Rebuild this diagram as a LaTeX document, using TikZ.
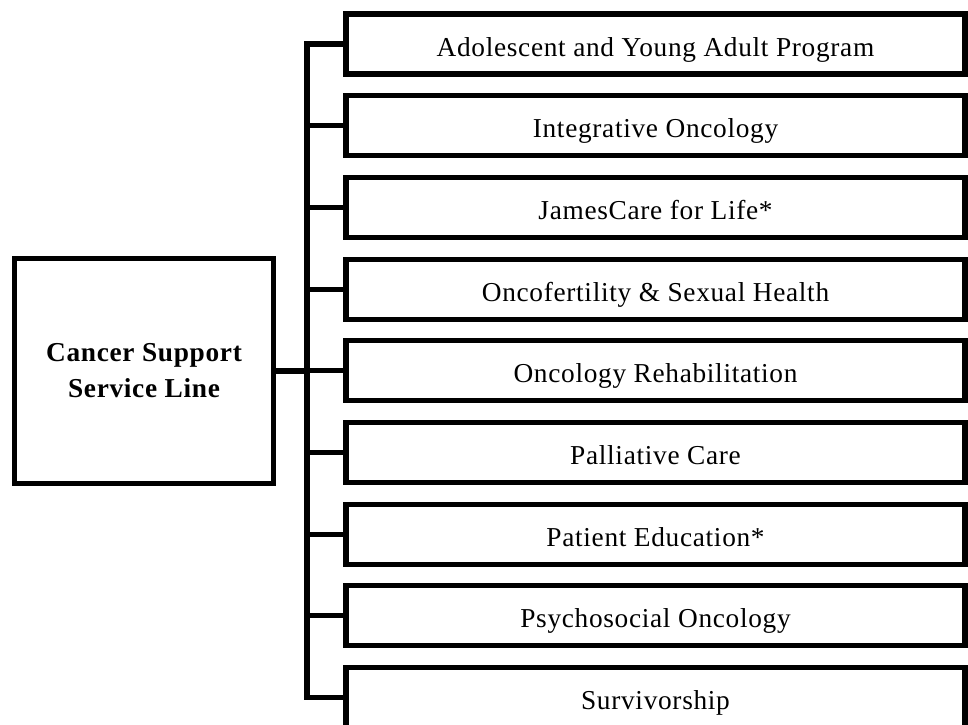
\documentclass[tikz,border=0pt]{standalone}
\usepackage{fontspec}
\setmainfont{Liberation Serif}[LetterSpace=2.5]
\begin{document}
\begin{tikzpicture}[x=0.75pt,y=-0.75pt,
  boxline/.style={line width=3.8pt},
  conn/.style={line width=3.8pt},
  subbox/.style={boxline, draw, rectangle, minimum width=619*0.75pt, minimum height=60*0.75pt, inner sep=0pt, text height=18pt, text depth=0pt, font=\fontsize{20.5}{24}\selectfont},
  mainbox/.style={boxline, draw, rectangle, minimum width=259*0.75pt, minimum height=225*0.75pt, inner sep=0pt, align=center, font=\fontsize{20.5}{27}\selectfont\bfseries}]
\useasboundingbox (0,0) rectangle (968,725);
\node[mainbox] (main) at (144,371) {Cancer Support\\Service Line};
\foreach \t [count=\i] in {Adolescent and Young Adult Program, Integrative Oncology, JamesCare for Life*, Oncofertility \& Sexual Health, Oncology Rehabilitation, Palliative Care, Patient Education*, Psychosocial Oncology, Survivorship}{
  \node[subbox] (b\i) at (655.5,{44+(\i-1)*81.7}) {\t};
}
\coordinate (top) at (307,44);
\coordinate (bot) at (307,697.6);
\coordinate (mid) at (307,371);
\draw[conn, line cap=rect] (top) -- (bot);
\draw[conn] (main.east) -- (mid);
\foreach \i in {1,...,9}{
  \draw[conn] (b\i.west -| top) -- (b\i.west);
}
\end{tikzpicture}
\end{document}
